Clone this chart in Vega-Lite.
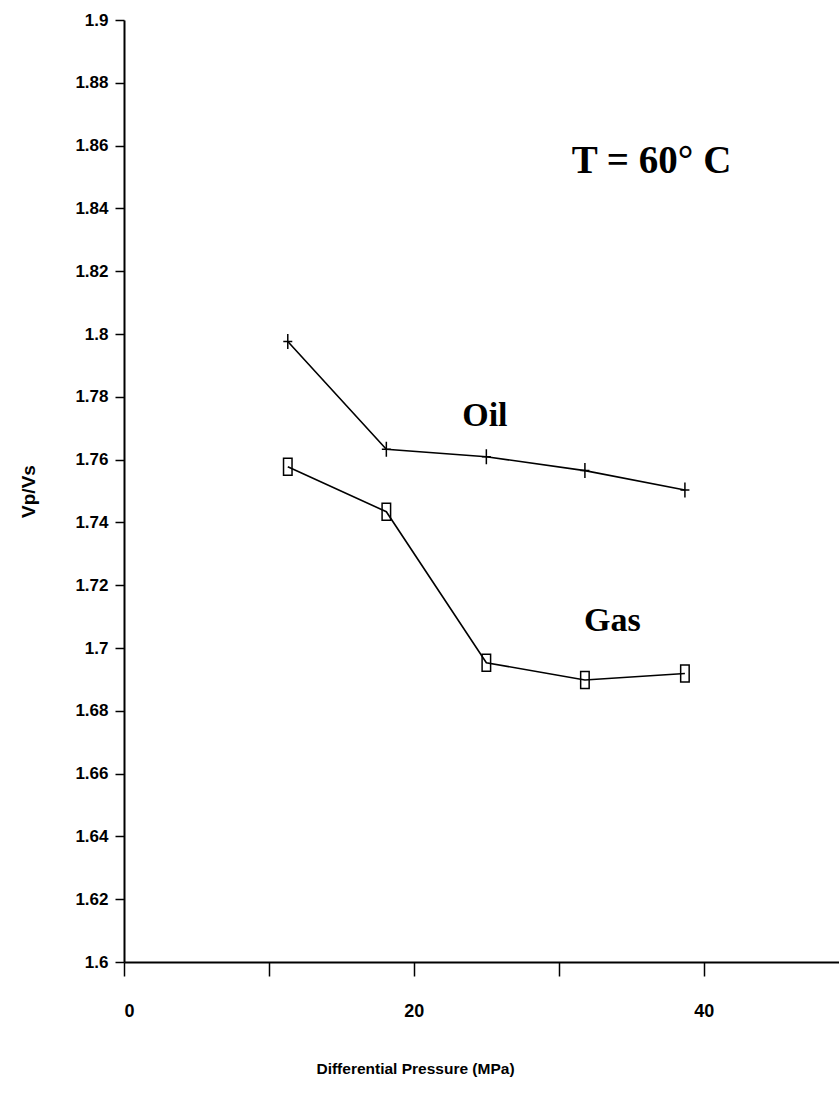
{
  "$schema": "https://vega.github.io/schema/vega-lite/v6.json",
  "autosize": {"type": "none"},
  "width": 716,
  "height": 942,
  "padding": {"left": 124, "top": 20, "right": 0, "bottom": 133},
  "background": "white",
  "config": {
    "view": {"stroke": null},
    "font": "Liberation Sans"
  },
  "datasets": {
    "series": [
      {"fluid": "Oil", "pressure": 11.3, "ratio": 1.7976},
      {"fluid": "Oil", "pressure": 18.1, "ratio": 1.7633},
      {"fluid": "Oil", "pressure": 25.0, "ratio": 1.7609},
      {"fluid": "Oil", "pressure": 31.8, "ratio": 1.7565},
      {"fluid": "Oil", "pressure": 38.7, "ratio": 1.7503},
      {"fluid": "Gas", "pressure": 11.3, "ratio": 1.7577},
      {"fluid": "Gas", "pressure": 18.1, "ratio": 1.7434},
      {"fluid": "Gas", "pressure": 25.0, "ratio": 1.6953},
      {"fluid": "Gas", "pressure": 31.8, "ratio": 1.6898},
      {"fluid": "Gas", "pressure": 38.7, "ratio": 1.6919}
    ],
    "notes": [
      {"label": "T = 60° C", "pressure": 36.4, "ratio": 1.855, "size": 39},
      {"label": "Oil", "pressure": 24.9, "ratio": 1.774, "size": 34},
      {"label": "Gas", "pressure": 33.7, "ratio": 1.7086, "size": 34}
    ]
  },
  "layer": [
    {
      "data": {"name": "series"},
      "mark": {"type": "line", "color": "black", "strokeWidth": 1.6},
      "encoding": {
        "x": {
          "field": "pressure", "type": "quantitative",
          "scale": {"domain": [0, 49.4], "nice": false, "zero": false},
          "axis": {
            "values": [0, 10, 20, 30, 40],
            "labelExpr": "datum.value % 20 == 0 ? datum.label : ''",
            "grid": false,
            "domainColor": "black", "domainWidth": 2,
            "tickColor": "black", "tickWidth": 1.5, "tickSize": 14,
            "labelFontSize": 18, "labelFontWeight": "bold", "labelColor": "black",
            "labelPadding": 26,
            "title": "Differential Pressure (MPa)",
            "titleFontSize": 15.5, "titleFontWeight": "bold", "titleColor": "black",
            "titleX": 291, "titleY": 106, "titleAnchor": "middle", "titleAlign": "center", "titleBaseline": "middle"
          }
        },
        "y": {
          "field": "ratio", "type": "quantitative",
          "scale": {"domain": [1.6, 1.9], "nice": false, "zero": false},
          "axis": {
            "values": [1.6, 1.62, 1.64, 1.66, 1.68, 1.7, 1.72, 1.74, 1.76, 1.78, 1.8, 1.82, 1.84, 1.86, 1.88, 1.9],
            "format": "~g",
            "grid": false,
            "domainColor": "black", "domainWidth": 2,
            "tickColor": "black", "tickWidth": 1.5, "tickSize": 9,
            "labelFontSize": 17, "labelFontWeight": "bold", "labelColor": "black",
            "labelPadding": 7,
            "title": "Vp/Vs",
            "titleFontSize": 19, "titleFontWeight": "bold", "titleColor": "black",
            "titleAngle": 270, "titleX": -96, "titleY": 471, "titleAlign": "center", "titleBaseline": "middle"
          }
        },
        "detail": {"field": "fluid"}
      }
    },
    {
      "data": {"name": "series"},
      "transform": [{"filter": "datum.fluid == 'Oil'"}],
      "mark": {"type": "point", "shape": "M-0.6,0H0.6M0,-1V1", "filled": false, "stroke": "black", "strokeWidth": 1.5, "size": 225, "opacity": 1},
      "encoding": {
        "x": {"field": "pressure", "type": "quantitative"},
        "y": {"field": "ratio", "type": "quantitative"}
      }
    },
    {
      "data": {"name": "series"},
      "transform": [{"filter": "datum.fluid == 'Gas'"}],
      "mark": {"type": "point", "shape": "M-0.5,-1H0.5V1H-0.5Z", "filled": false, "stroke": "black", "strokeWidth": 1.5, "size": 289, "opacity": 1},
      "encoding": {
        "x": {"field": "pressure", "type": "quantitative"},
        "y": {"field": "ratio", "type": "quantitative"}
      }
    },
    {
      "mark": {"type": "rule", "color": "black", "strokeWidth": 2},
      "encoding": {"y": {"datum": 1.9}}
    },
    {
      "data": {"name": "notes"},
      "mark": {"type": "text", "font": "Liberation Serif", "fontWeight": "bold", "color": "black", "align": "center", "baseline": "middle"},
      "encoding": {
        "x": {"field": "pressure", "type": "quantitative"},
        "y": {"field": "ratio", "type": "quantitative"},
        "text": {"field": "label"},
        "size": {"field": "size", "type": "quantitative", "scale": null, "legend": null}
      }
    }
  ]
}
